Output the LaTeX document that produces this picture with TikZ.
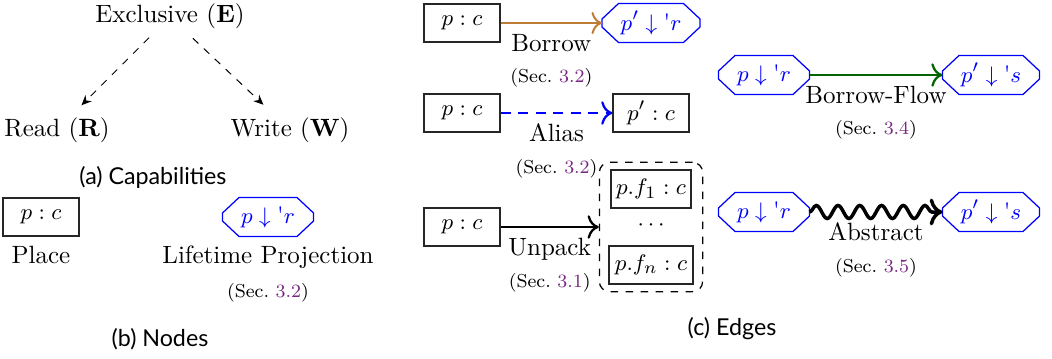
\documentclass[tikz,border=0pt]{standalone}
\usepackage{fontspec}
\newfontfamily\capfont{Lato}
\usetikzlibrary{arrows.meta,decorations.pathmorphing,fit}
\definecolor{refpurple}{RGB}{120,40,130}
\definecolor{borrowbrown}{RGB}{190,125,55}
\definecolor{flowgreen}{RGB}{0,100,0}
\newcommand{\secref}[1]{(Sec.~\textcolor{refpurple}{#1})}
\newcommand{\lproj}[2]{$#1\downarrow\textup{\textquotesingle}#2$}
\newcommand{\projoutline}[1]{%
  \draw[projline] ([xshift=6.6pt]#1.north west) -- ([xshift=-6.6pt]#1.north east)
    -- ([yshift=1.6pt]#1.east) -- ([yshift=-1.6pt]#1.east)
    -- ([xshift=-6.6pt]#1.south east) -- ([xshift=6.6pt]#1.south west)
    -- ([yshift=-1.6pt]#1.west) -- ([yshift=1.6pt]#1.west) -- cycle;}
\begin{document}
\begin{tikzpicture}[x=0.4pt,y=-0.4pt,
  txt/.style={font=\fontsize{10}{12}\selectfont, inner sep=0pt, anchor=base},
  sectxt/.style={font=\fontsize{7.5}{9}\selectfont, inner sep=0pt, anchor=base},
  captxt/.style={font=\capfont\fontsize{9.3}{11}\selectfont, inner sep=0pt, anchor=base},
  place/.style={draw=black!85, line width=0.5pt, minimum width=30.4pt, minimum height=15.2pt, inner sep=0pt, font=\fontsize{9.5}{11}\selectfont},
  proj/.style={text=blue, minimum height=15.2pt, inner sep=0pt, font=\fontsize{9.5}{11}\selectfont},
  projline/.style={draw=blue, line width=0.5pt},
  capedge/.style={dashed, line width=0.4pt, -{Stealth[length=4pt,width=3.5pt]}},
  edgelbl/.style={midway, anchor=base, inner sep=0pt, yshift=-11.4pt, text=black, font=\fontsize{10}{12}\selectfont},
  edgesec/.style={midway, anchor=base, inner sep=0pt, yshift=-24pt, text=black, font=\fontsize{7.5}{9}\selectfont},
  arr/.style={-{To[scale=1.25]}}
]
\useasboundingbox (0,0) rectangle (1052,359);
% (a) Capabilities
\node[txt] (E) at (170,23) {Exclusive (\textbf{E})};
\node[txt] (R) at (57,136) {Read (\textbf{R})};
\node[txt] (W) at (290,136) {Write (\textbf{W})};
\draw[capedge, shorten <=4.5pt, shorten >=6.5pt] (E) -- (R);
\draw[capedge, shorten <=5pt, shorten >=7pt] (E) -- (W);
\node[captxt] (capa) at (153,185) {(a) Capabilities};
% (b) Nodes
\node[place] (pl) at (41,217) {$p:c$};
\node[txt] (pllbl) at (41,263) {Place};
\node[proj, minimum width=36pt] (lp) at (268,217) {\lproj{p}{r}};
\projoutline{lp}
\node[txt] (lplbl) at (268,263) {Lifetime Projection};
\node[sectxt] (lpsec) at (268,297) {\secref{3.2}};
\node[captxt] (capb) at (160,346) {(b) Nodes};
% (c) Edges
\node[place] (b1) at (462,23) {$p:c$};
\node[proj, minimum width=38.8pt] (b2) at (651,23) {\lproj{p'}{r}};
\projoutline{b2}
\draw[borrowbrown, line width=0.8pt, arr] (b1) -- (b2)
  node[edgelbl] {Borrow} node[edgesec] {\secref{3.2}};
\node[place] (a1) at (462,113) {$p:c$};
\node[place] (a2) at (651,113) {$p':c$};
\draw[blue, dash pattern=on 4pt off 3pt, line width=0.9pt, arr] (a1) -- (a2)
  node[edgelbl] {Alias} node[edgesec] {\secref{3.2}};
\node[place] (u1) at (462,227) {$p:c$};
\node[place, minimum width=32pt] (f1) at (651,189) {$p.f_1:c$};
\node[inner sep=0pt, font=\fontsize{9.5}{11}\selectfont] (dots) at (651,225) {$\cdots$};
\node[place, minimum width=33.6pt] (fn) at (651,265) {$p.f_n:c$};
\node[fit=(f1)(fn), draw, dashed, line width=0.5pt, rounded corners=4pt, inner xsep=3.6pt, inner ysep=2.8pt] (grp) {};
\draw[line width=0.9pt, arr] (u1) -- (grp)
  node[edgelbl] {Unpack} node[edgesec] {\secref{3.1}};
\node[proj, minimum width=36pt] (bf1) at (764,75) {\lproj{p}{r}};
\projoutline{bf1}
\node[proj, minimum width=38.4pt] (bf2) at (991,75) {\lproj{p'}{s}};
\projoutline{bf2}
\draw[flowgreen, line width=0.9pt, arr] (bf1) -- (bf2)
  node[edgelbl] {Borrow-Flow} node[edgesec] {\secref{3.4}};
\node[proj, minimum width=36pt] (ab1) at (764,212) {\lproj{p}{r}};
\projoutline{ab1}
\node[proj, minimum width=38.4pt] (ab2) at (991,212) {\lproj{p'}{s}};
\projoutline{ab2}
\draw[line width=1.4pt, -{To[scale=1.1]}, decorate, decoration={snake, amplitude=2.6pt, segment length=8.7pt, post length=2pt}] (ab1) -- (ab2)
  node[edgelbl] {Abstract} node[edgesec] {\secref{3.5}};
\node[captxt] (capc) at (732,335) {(c) Edges};
\end{tikzpicture}
\end{document}
